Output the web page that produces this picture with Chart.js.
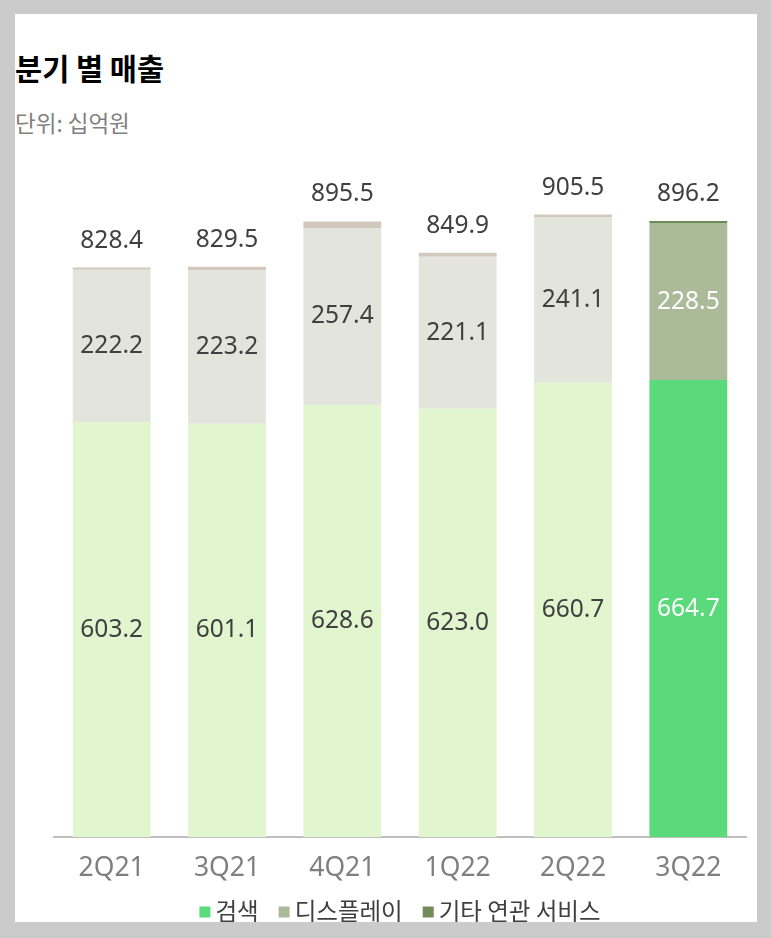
<!DOCTYPE html>
<html>
<head>
<meta charset="utf-8">
<script src="https://cdn.jsdelivr.net/npm/chart.js@4.4.0/dist/chart.umd.min.js"></script>
<style>
  html, body { margin: 0; padding: 0; background: #cbcbcb; width: 771px; height: 938px; overflow: hidden; }
  #panel { position: absolute; left: 15px; top: 14px; width: 742px; height: 908px; background: #ffffff; overflow: hidden; }
  #title { position: absolute; left: 0px; top: 39px; font-family: "Noto Sans CJK KR", sans-serif; font-weight: 700; font-size: 29.5px; color: #000; line-height: 1; }
  #subtitle { position: absolute; left: 0px; top: 97px; font-family: "Noto Sans CJK KR", sans-serif; font-size: 22.5px; color: #808080; line-height: 1; }
  #wrap { position: absolute; left: 0px; top: 140px; width: 742px; height: 768px; }
</style>
</head>
<body>
<div id="panel">
  <div id="title">분기 별 매출</div>
  <div id="subtitle">단위: 십억원</div>
  <div id="wrap"><canvas id="c" width="742" height="768"></canvas></div>
</div>
<script>
const categories = ["2Q21", "3Q21", "4Q21", "1Q22", "2Q22", "3Q22"];
const searchValues = [603.2, 601.1, 628.6, 623.0, 660.7, 664.7];
const displayValues = [222.2, 223.2, 257.4, 221.1, 241.1, 228.5];
const otherValues = [3.0, 5.2, 9.5, 5.8, 3.7, 3.0];
const totalValues = [828.4, 829.5, 895.5, 849.9, 905.5, 896.2];
const seriesNames = ["검색", "디스플레이", "기타 연관 서비스"];

const strong = ["#5bda7c", "#abba98", "#728a58"];
const faded = ["#e1f5cf", "#e3e5dc", "#d3c8bd"];
const highlightIndex = 5;
function colorsFor(k) {
  return categories.map((_, i) => i === highlightIndex ? strong[k] : faded[k]);
}

const labelPlugin = {
  id: "valueLabels",
  afterDatasetsDraw(chart) {
    const ctx = chart.ctx;
    ctx.save();
    ctx.font = '24.5px "Noto Sans", sans-serif';
    ctx.textAlign = "center";
    ctx.textBaseline = "middle";
    [0, 1].forEach(d => {
      const meta = chart.getDatasetMeta(d);
      meta.data.forEach((el, i) => {
        const v = chart.data.datasets[d].data[i];
        ctx.fillStyle = i === highlightIndex ? "#ffffff" : "#404040";
        ctx.fillText(v.toFixed(1), el.x, (el.y + el.base) / 2);
      });
    });
    const topMeta = chart.getDatasetMeta(2);
    topMeta.data.forEach((el, i) => {
      ctx.fillStyle = "#404040";
      ctx.fillText(totalValues[i].toFixed(1), el.x, el.y - 27);
    });
    ctx.restore();
  }
};

const legendPlugin = {
  id: "customLegend",
  afterDraw(chart) {
    const ctx = chart.ctx;
    const area = chart.chartArea;
    ctx.save();
    ctx.font = '23.5px "Noto Sans CJK KR", sans-serif';
    ctx.textBaseline = "middle";
    ctx.textAlign = "left";
    const box = 11, gapText = 5, gapItem = 20;
    const items = chart.data.datasets.map((ds, i) => ({ text: ds.label, color: strong[i], w: ctx.measureText(ds.label).width }));
    let total = 0;
    items.forEach((it, i) => { total += box + gapText + it.w + (i < items.length - 1 ? gapItem : 0); });
    let x = (area.left + area.right) / 2 - total / 2;
    const y = 757;
    items.forEach(it => {
      ctx.fillStyle = it.color;
      ctx.fillRect(x, y - box / 2 + 1, box, box);
      x += box + gapText;
      ctx.fillStyle = "#404040";
      ctx.fillText(it.text, x, y);
      x += it.w + gapItem;
    });
    ctx.restore();
  }
};

new Chart(document.getElementById("c"), {
  type: "bar",
  data: {
    labels: categories,
    datasets: [
      { label: seriesNames[0], data: searchValues, backgroundColor: colorsFor(0) },
      { label: seriesNames[1], data: displayValues, backgroundColor: colorsFor(1) },
      { label: seriesNames[2], data: otherValues, backgroundColor: colorsFor(2) }
    ]
  },
  options: {
    responsive: false,
    animation: false,
    layout: { padding: { left: 39, right: 11, top: 30, bottom: 37 } },
    datasets: { bar: { categoryPercentage: 1.0, barPercentage: 0.675, borderWidth: 0 } },
    scales: {
      x: {
        stacked: true,
        grid: { display: false, drawTicks: false },
        border: { display: true, color: "#bfbfbf", width: 2 },
        ticks: { color: "#7f7f7f", font: { family: '"Noto Sans", sans-serif', size: 26.5 }, padding: 16 },
        afterFit(scale) { scale.height = 48; }
      },
      y: {
        stacked: true,
        display: false,
        min: 0,
        max: 950
      }
    },
    plugins: {
      legend: { display: false },
      tooltip: { enabled: false }
    }
  },
  plugins: [labelPlugin, legendPlugin]
});
</script>
</body>
</html>
